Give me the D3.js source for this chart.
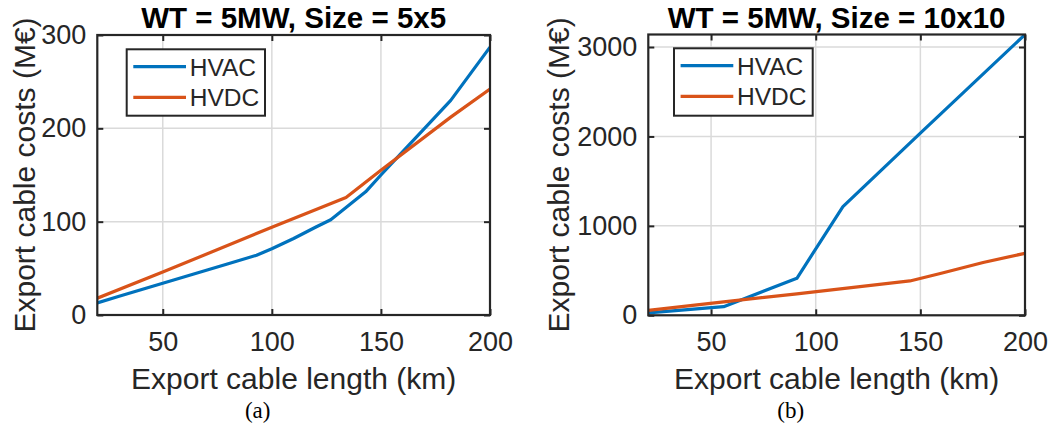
<!DOCTYPE html>
<html>
<head>
<meta charset="utf-8">
<script src="https://cdn.jsdelivr.net/npm/d3@7"></script>
<style>
  html, body { margin: 0; padding: 0; background: #fff; }
  svg { display: block; }
  text { font-family: "Liberation Sans", Arial, Helvetica, sans-serif; fill: #262626; }
</style>
</head>
<body>
<svg id="chart" width="1055" height="432"></svg>
<script>
// ---- data ----
const titleA = "WT = 5MW, Size = 5x5";
const titleB = "WT = 5MW, Size = 10x10";
const captionA = "(a)";
const captionB = "(b)";
const xLabel = "Export cable length (km)";
const yLabel = "Export cable costs (M€)";
const seriesNames = ["HVAC", "HVDC"];

const xTicks = [50, 100, 150, 200];
const yTicksA = [0, 100, 200, 300];
const yTicksB = [0, 1000, 2000, 3000];
const xDomain = [20, 200];
const yDomainA = [0, 300];
const yDomainB = [0, 3140];

const hvacXA = [20, 30, 40, 50, 60, 70, 80, 93, 100, 110, 120, 127, 135, 143, 150, 160, 170, 182, 200];
const hvacYA = [13, 20, 27, 34, 41, 48, 55, 64, 71, 82, 94, 102, 117, 132, 150, 175, 200, 230, 287];
const hvdcXA = [20, 50, 100, 134, 150, 182, 200];
const hvdcYA = [18, 46, 94, 126, 155, 212, 242];

const hvacXB = [20, 56, 91, 113, 150, 200];
const hvacYB = [27, 96, 414, 1216, 2038, 3139];
const hvdcXB = [20, 56, 91, 145, 160, 180, 200];
const hvdcYB = [55, 150, 240, 384, 470, 590, 694];

const colors = ["#0072BD", "#D95319"];

// ---- layout ----
const svg = d3.select("#chart");
const panels = [
  { title: titleA, caption: captionA, left: 97.3, right: 490, top: 35, bottom: 315,
    yDomain: yDomainA, yTicks: yTicksA, ylabX: 24,
    series: [[hvacXA, hvacYA], [hvdcXA, hvdcYA]], legend: { x: 126.7, y: 49.3, w: 138.3, h: 66.4 } },
  { title: titleB, caption: captionB, left: 648.3, right: 1025, top: 34.5, bottom: 315.3,
    yDomain: yDomainB, yTicks: yTicksB, ylabX: 558,
    series: [[hvacXB, hvacYB], [hvdcXB, hvdcYB]], legend: { x: 674, y: 48.3, w: 138.7, h: 67.4 } }
];

panels.forEach((p, i) => {
  const x = d3.scaleLinear().domain(xDomain).range([p.left, p.right]);
  const y = d3.scaleLinear().domain(p.yDomain).range([p.bottom, p.top]);
  const g = svg.append("g");
  const clipId = "clip" + i;
  svg.append("defs").append("clipPath").attr("id", clipId)
    .append("rect").attr("x", p.left).attr("y", p.top)
    .attr("width", p.right - p.left).attr("height", p.bottom - p.top);

  // grid
  g.append("g").selectAll("line").data(xTicks).join("line")
    .attr("x1", d => x(d)).attr("x2", d => x(d))
    .attr("y1", p.top).attr("y2", p.bottom)
    .attr("stroke", "#dadada").attr("stroke-width", 1.5);
  g.append("g").selectAll("line").data(p.yTicks).join("line")
    .attr("y1", d => y(d)).attr("y2", d => y(d))
    .attr("x1", p.left).attr("x2", p.right)
    .attr("stroke", "#dadada").attr("stroke-width", 1.5);

  // axes via d3 axes (inward ticks)
  const tickLen = 6;
  const fmt = d3.format("d");
  const xb = g.append("g").attr("transform", `translate(0,${p.bottom})`)
    .call(d3.axisBottom(x).tickValues(xTicks).tickFormat(fmt).tickSizeInner(-tickLen).tickSizeOuter(0).tickPadding(17));
  const xt = g.append("g").attr("transform", `translate(0,${p.top})`)
    .call(d3.axisTop(x).tickValues(xTicks).tickSizeInner(-tickLen).tickSizeOuter(0).tickFormat(""));
  const yl = g.append("g").attr("transform", `translate(${p.left},0)`)
    .call(d3.axisLeft(y).tickValues(p.yTicks).tickFormat(fmt).tickSizeInner(-tickLen).tickSizeOuter(0).tickPadding(11));
  const yr = g.append("g").attr("transform", `translate(${p.right},0)`)
    .call(d3.axisRight(y).tickValues(p.yTicks).tickSizeInner(-tickLen).tickSizeOuter(0).tickFormat(""));
  [xb, xt, yl, yr].forEach(a => {
    a.select(".domain").remove();
    a.selectAll(".tick line").attr("stroke", "#262626").attr("stroke-width", 2);
    a.selectAll(".tick text").attr("font-size", 27).attr("fill", "#262626")
      .style("font-family", '"Liberation Sans", Arial, sans-serif');
  });
  xb.selectAll(".tick text").attr("dy", "0.71em");

  // series lines
  const line = d3.line().x(d => x(d[0])).y(d => y(d[1]));
  p.series.forEach((s, k) => {
    const pts = s[0].map((xv, j) => [xv, s[1][j]]);
    g.append("path").datum(pts).attr("d", line)
      .attr("fill", "none").attr("stroke", colors[k]).attr("stroke-width", 3.2)
      .attr("stroke-linejoin", "round").attr("clip-path", `url(#${clipId})`);
  });

  // box
  g.append("rect").attr("x", p.left).attr("y", p.top)
    .attr("width", p.right - p.left).attr("height", p.bottom - p.top)
    .attr("fill", "none").attr("stroke", "#262626").attr("stroke-width", 2.2);

  // legend
  const L = p.legend;
  const lg = g.append("g");
  lg.append("rect").attr("x", L.x).attr("y", L.y).attr("width", L.w).attr("height", L.h)
    .attr("fill", "#fff").attr("stroke", "#262626").attr("stroke-width", 2);
  seriesNames.forEach((nm, k) => {
    const cy = L.y + 17.4 + k * 30.6;
    lg.append("line").attr("x1", L.x + 6.6).attr("x2", L.x + 59.3)
      .attr("y1", cy).attr("y2", cy).attr("stroke", colors[k]).attr("stroke-width", 3.2);
    lg.append("text").attr("x", L.x + 63).attr("y", cy).attr("dy", "0.36em")
      .attr("font-size", 24.5).text(nm);
  });

  // title
  g.append("text").attr("x", (p.left + p.right) / 2).attr("y", 28)
    .attr("text-anchor", "middle").attr("font-size", 29.5).attr("font-weight", "bold")
    .attr("fill", "#000").style("fill", "#000").text(p.title);

  // x label
  g.append("text").attr("x", (p.left + p.right) / 2).attr("y", 389)
    .attr("text-anchor", "middle").attr("font-size", 30).text(xLabel);

  // y label
  g.append("text").attr("transform", `translate(${p.ylabX},${(p.top + p.bottom) / 2}) rotate(-90)`)
    .attr("text-anchor", "middle").attr("dy", "0.36em").attr("font-size", 30).text(yLabel);

  // caption
  g.append("text").attr("x", (p.left + p.right) / 2 - 36 + (i === 1 ? -10 : 0)).attr("y", 418)
    .attr("text-anchor", "middle").attr("font-size", 23)
    .style("font-family", '"Liberation Serif", "Times New Roman", serif').style("fill", "#000")
    .text(p.caption);
});
</script>
</body>
</html>
